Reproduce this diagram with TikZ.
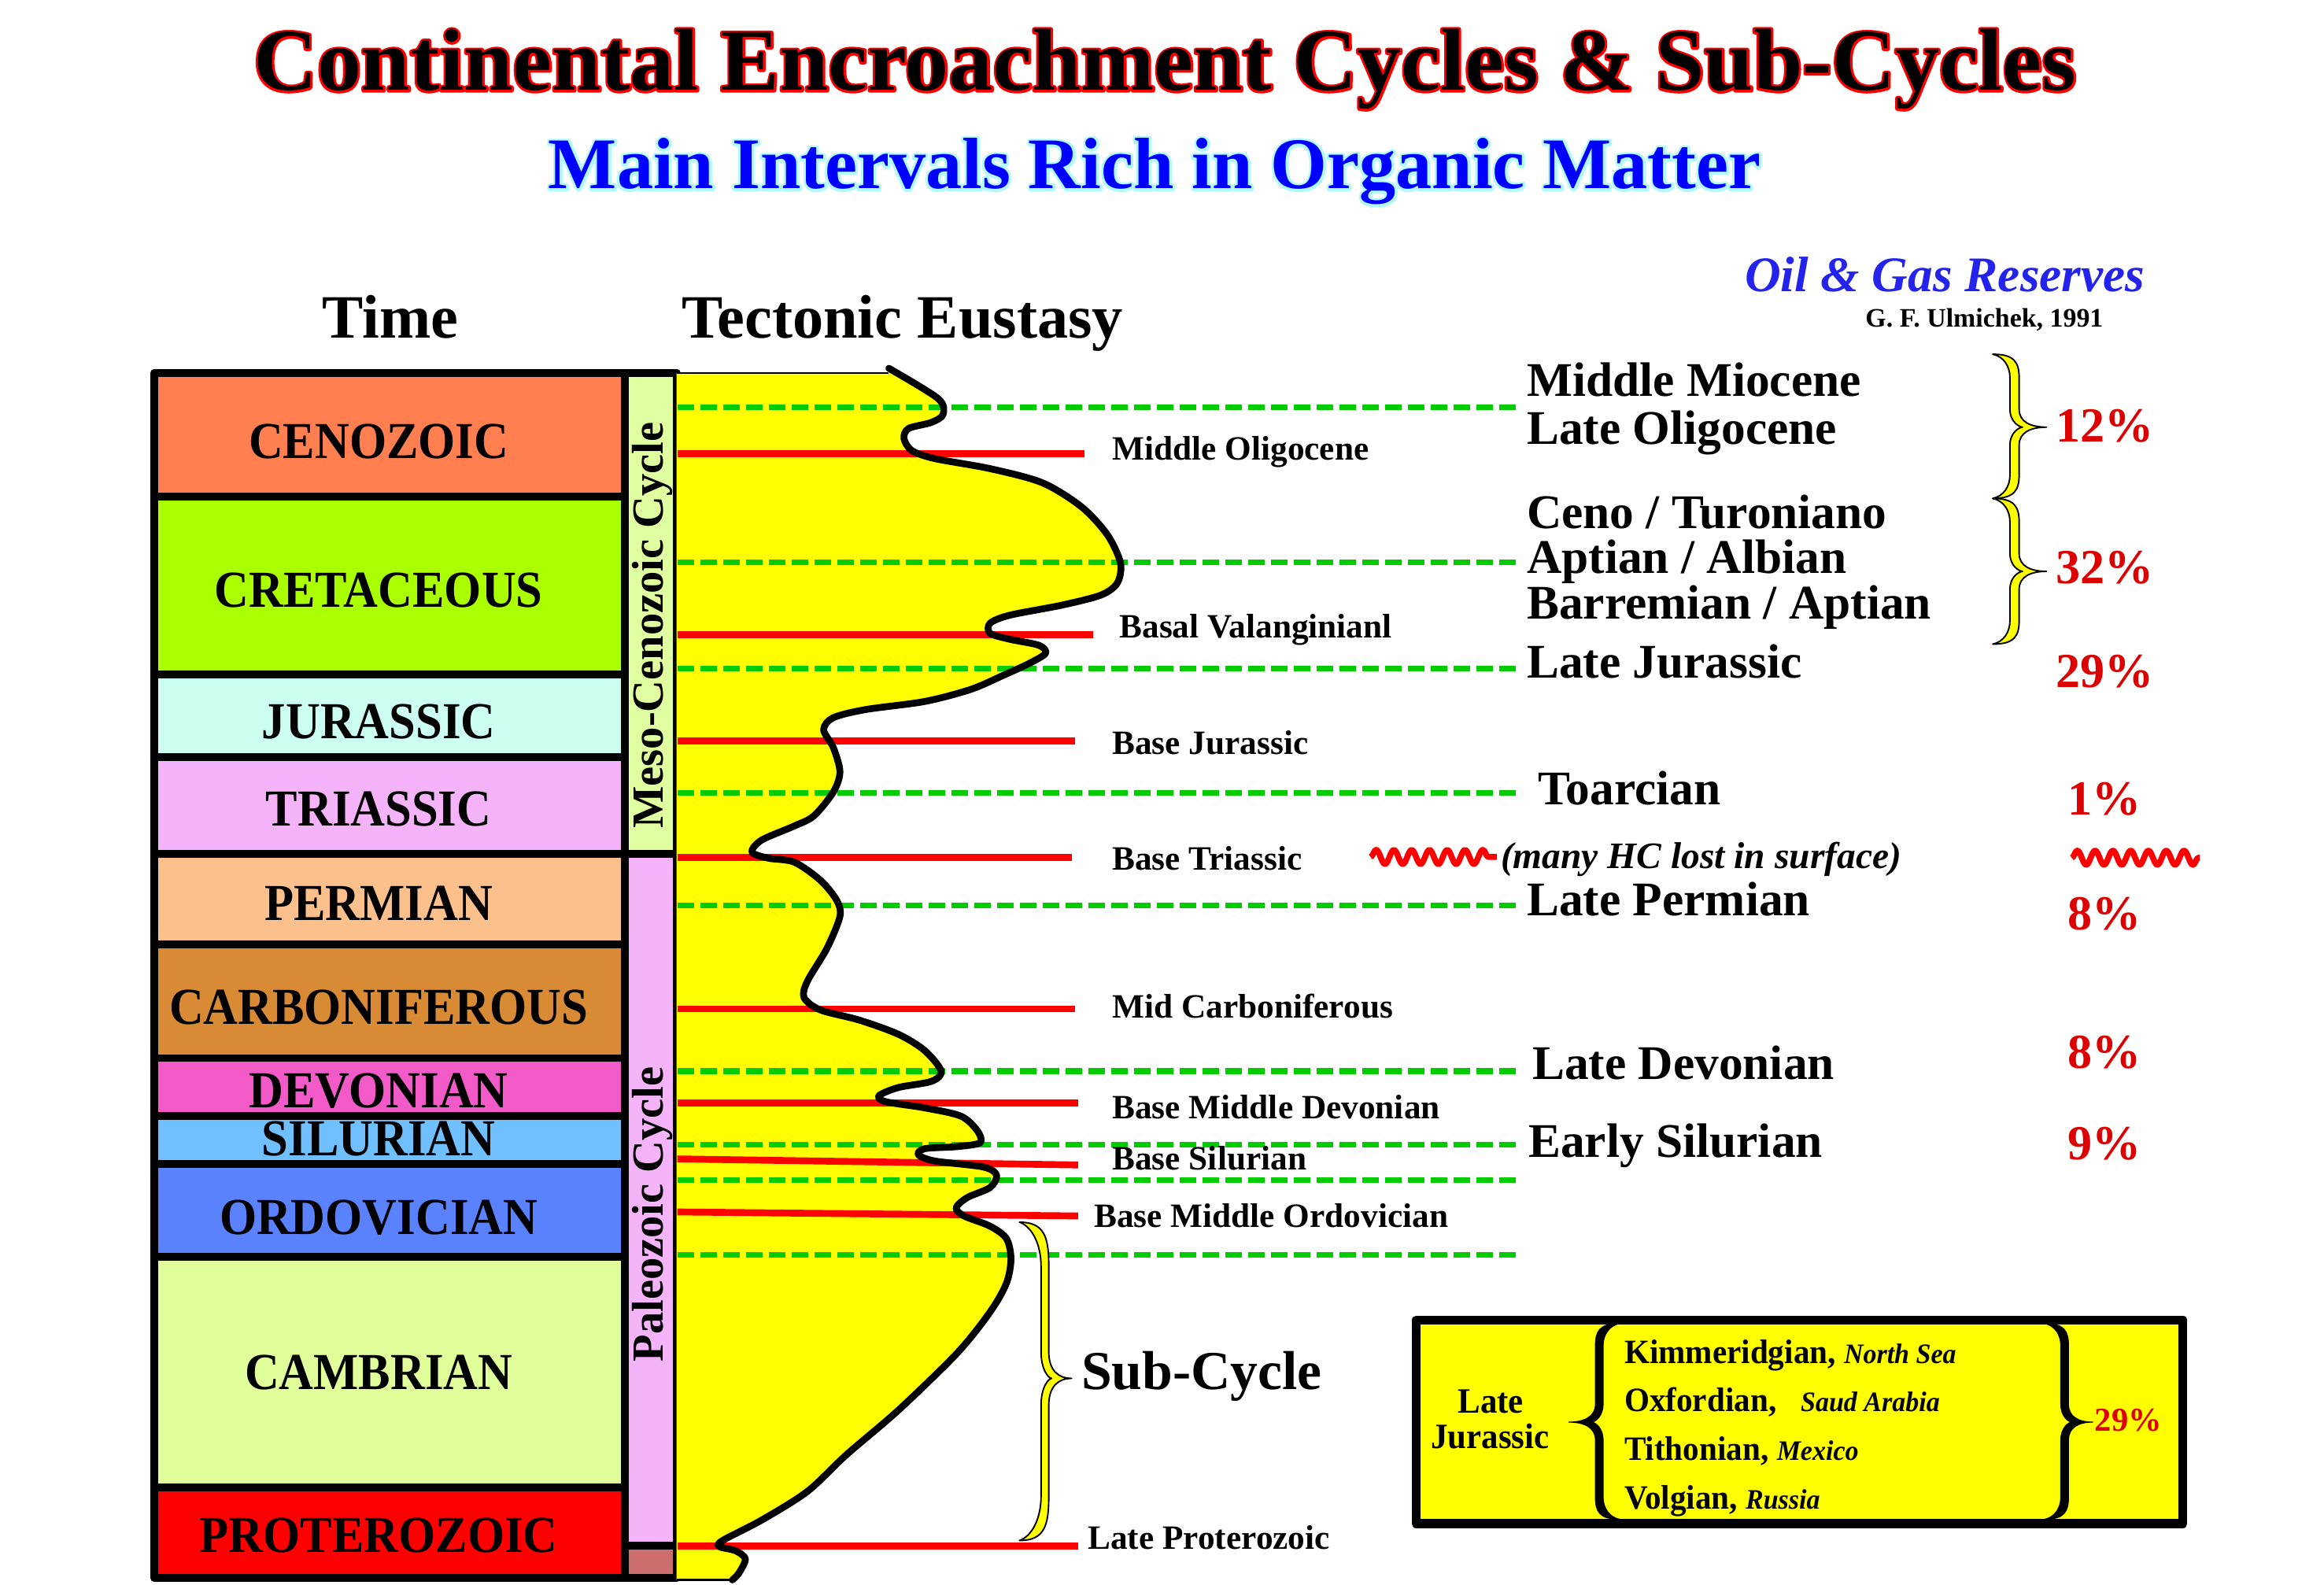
\documentclass[tikz,border=0pt]{standalone}
\usepackage{fontspec}
\setmainfont{Liberation Serif}
\newfontfamily\outlinefontA{Liberation Serif}[BoldFeatures={FakeBold=5}]
\newfontfamily\outlinefontB{Liberation Serif}[BoldFeatures={FakeBold=7}]
\usetikzlibrary{decorations.pathmorphing}
\definecolor{cCen}{RGB}{255,127,80}
\definecolor{cCre}{RGB}{170,255,0}
\definecolor{cJur}{RGB}{204,255,242}
\definecolor{cTri}{RGB}{245,180,250}
\definecolor{cPer}{RGB}{252,192,140}
\definecolor{cCar}{RGB}{217,138,52}
\definecolor{cDev}{RGB}{242,90,200}
\definecolor{cSil}{RGB}{112,192,255}
\definecolor{cOrd}{RGB}{90,130,255}
\definecolor{cCam}{RGB}{224,255,155}
\definecolor{cPro}{RGB}{255,0,0}
\definecolor{cMeso}{RGB}{224,255,160}
\definecolor{cPal}{RGB}{245,180,250}
\definecolor{cPatch}{RGB}{205,110,110}
\definecolor{cYel}{RGB}{255,255,0}
\definecolor{cGrn}{RGB}{0,204,0}
\definecolor{cRed}{RGB}{255,0,0}
\definecolor{cPct}{RGB}{220,0,0}
\definecolor{cBlue}{RGB}{0,0,255}
\definecolor{cCyan}{RGB}{175,250,255}
\definecolor{cOil}{RGB}{35,35,235}
\newcommand\bh{3}
% #1 style, #2 end x, #3 stem x, #4 tip x, #5 top y, #6 tip y, #7 bottom y, #8 curl, #9 tip length
\newcommand\cbrace[9]{%
 \path[#1] (#2,#5)
  .. controls (#3,#5) and ({#3+(\bh)},{#5+0.35*#8}) .. ({#3+(\bh)},{#5+#8})
  -- ({#3+(\bh)},{#6-#9})
  .. controls ({#3+(\bh)},{#6-0.3*#9}) and ({#4-0.5*(#4-#3)},{#6}) .. (#4,#6)
  .. controls ({#4-0.5*(#4-#3)},{#6}) and ({#3+(\bh)},{#6+0.3*#9}) .. ({#3+(\bh)},{#6+#9})
  -- ({#3+(\bh)},{#7-#8})
  .. controls ({#3+(\bh)},{#7-0.35*#8}) and (#3,#7) .. (#2,#7)
  .. controls ({0.5*#2+0.5*#3},{#7-0.1*#8}) and ({#3-(\bh)},{#7-0.5*#8}) .. ({#3-(\bh)},{#7-#8})
  -- ({#3-(\bh)},{#6+#9})
  .. controls ({#3-(\bh)},{#6+0.3*#9}) and ({#3+0.15*(#4-#3)},{#6}) .. ({#3+0.25*(#4-#3)},{#6})
  .. controls ({#3+0.15*(#4-#3)},{#6}) and ({#3-(\bh)},{#6-0.3*#9}) .. ({#3-(\bh)},{#6-#9})
  -- ({#3-(\bh)},{#5+#8})
  .. controls ({#3-(\bh)},{#5+0.5*#8}) and ({0.5*#2+0.5*#3},{#5+0.1*#8}) .. (#2,#5)
  -- cycle;}
\tikzset{
 every node/.style={inner sep=0pt, outer sep=0pt},
 perlab/.style={font=\fontsize{17.5}{20}\selectfont\bfseries, anchor=base, xscale=0.92},
 redlab/.style={font=\fontsize{11.5}{13}\selectfont\bfseries, anchor=base west},
 biglab/.style={font=\fontsize{16.3}{18}\selectfont\bfseries, anchor=base west},
 pctlab/.style={font=\fontsize{16.5}{18}\selectfont\bfseries, text=cPct, anchor=base},
 boxlab/.style={font=\fontsize{11.5}{13}\selectfont\bfseries, anchor=base west, xscale=0.95},
 cyclab/.style={font=\fontsize{15}{17}\selectfont\bfseries, anchor=base, rotate=90},
 grnline/.style={cGrn, line width=1.9pt, dash pattern=on 5.6pt off 2.1pt},
 redline/.style={cRed, line width=2.3pt},
 border/.style={line width=2.6pt},
 wavy/.style={cRed, line width=2pt, decorate, decoration={snake, segment length=6pt, amplitude=2.4pt}},
 ybrace/.style={fill=cYel, draw=black, line width=0.5pt},
 kbrace/.style={fill=black, draw=black, line width=0.3pt},
}
\begin{document}
\begin{tikzpicture}[x=0.5pt,y=-0.5pt, line join=round]
\useasboundingbox (0,0) rectangle (1568,1069);
\fill[white] (0,0) rectangle (1568,1069);

% ---------- titles ----------
\node[font=\fontsize{29.7}{32}\selectfont\outlinefontA\bfseries, text=cRed, anchor=base] (titleR) at (786,61) {Continental Encroachment Cycles \& Sub-Cycles};
\node[font=\fontsize{29.7}{32}\selectfont\bfseries, anchor=base] (title) at (786,61) {Continental Encroachment Cycles \& Sub-Cycles};
\node[font=\fontsize{24.5}{27}\selectfont\outlinefontB\bfseries, text=cCyan, anchor=base] (subtitleC) at (779,127.4) {Main Intervals Rich in Organic Matter};
\node[font=\fontsize{24.5}{27}\selectfont\bfseries, text=cBlue, anchor=base] (subtitle) at (779,127.4) {Main Intervals Rich in Organic Matter};

\node[font=\fontsize{20.8}{23}\selectfont\bfseries, anchor=base] (time) at (263.5,228.3) {Time};
\node[font=\fontsize{20.8}{23}\selectfont\bfseries, anchor=base west] (tect) at (460,228.3) {Tectonic Eustasy};
\node[font=\fontsize{16.8}{19}\selectfont\bfseries\itshape, text=cOil, anchor=base east] (oil) at (1447,196.5) {Oil \& Gas Reserves};
\node[font=\fontsize{9}{10}\selectfont\bfseries, anchor=base east] (ulm) at (1419,220.4) {G. F. Ulmichek, 1991};

% ---------- time column ----------
\fill[cCen] (104,251.6) rectangle (421.5,335.2);
\fill[cCre] (104,335.2) rectangle (421.5,454.9);
\fill[cJur] (104,454.9) rectangle (421.5,510.7);
\fill[cTri] (104,510.7) rectangle (421.5,576.3);
\fill[cPer] (104,576.3) rectangle (421.5,637.2);
\fill[cCar] (104,637.2) rectangle (421.5,713.9);
\fill[cDev] (104,713.9) rectangle (421.5,753);
\fill[cSil] (104,753) rectangle (421.5,785.5);
\fill[cOrd] (104,785.5) rectangle (421.5,848);
\fill[cCam] (104,848) rectangle (421.5,1003.6);
\fill[cPro] (104,1003.6) rectangle (421.5,1064.7);
\fill[cMeso] (421.5,251.6) rectangle (456.5,576.3);
\fill[cPal] (421.5,576.3) rectangle (456.5,1042.7);
\fill[cPatch] (421.5,1042.7) rectangle (456.5,1064.7);
\foreach \y in {335.2,454.9,510.7,576.3,637.2,713.9,753,785.5,848,1003.6}
  \draw[border] (104,\y) -- (421.5,\y);
\draw[border] (421.5,576.3) -- (456.5,576.3);
\draw[border] (421.5,1042.7) -- (456.5,1042.7);
\draw[border] (421.5,251.6) -- (421.5,1064.7);
\draw[border] (104,251.6) rectangle (456.5,1064.7);

\node[perlab] (cen) at (255.5,309.4) {CENOZOIC};
\node[perlab] (cre) at (255.5,409.7) {CRETACEOUS};
\node[perlab] (jur) at (255.5,498.5) {JURASSIC};
\node[perlab] (tri) at (255.5,557.3) {TRIASSIC};
\node[perlab] (per) at (255.5,621) {PERMIAN};
\node[perlab] (car) at (255.5,691) {CARBONIFEROUS};
\node[perlab] (dev) at (255.5,747.5) {DEVONIAN};
\node[perlab] (sil) at (255.5,780) {SILURIAN};
\node[perlab] (ord) at (255.5,832.8) {ORDOVICIAN};
\node[perlab] (cam) at (255.5,937.5) {CAMBRIAN};
\node[perlab] (pro) at (255.5,1047.6) {PROTEROZOIC};
\node[cyclab] (meso) at (447.5,421.9) {Meso-Cenozoic Cycle};
\node[cyclab] (paleo) at (447.5,819.3) {Paleozoic Cycle};

% ---------- eustasy curve ----------
\def\curvepts{(599.7,248.5) (632.8,268.8) (636.3,279.6) (628.4,285) (613,289.1) (609.9,295.9) (615.2,304) (630.6,309.4) (668,316.2) (703.2,325.7) (729.6,341.9) (747.2,360.9) (756,379.9) (753.8,393.4) (742.8,401.5) (716.4,408.3) (681.2,415.1) (668,420.5) (668,427.3) (681.2,431.3) (701,435.4) (705.4,440.8) (694.4,447.6) (676.8,455.7) (654.8,465.2) (623.8,473.3) (584.3,478.7) (562.3,484.2) (555.7,492.3) (562.3,504.5) (566.7,520.7) (562.3,534.3) (549.1,550.5) (535.9,557.3) (513.9,566.8) (507.3,574.9) (518.3,579) (535.9,581.7) (553.5,593.9) (564.5,607.4) (566.7,618.3) (557.9,639.9) (544.7,662.1) (542.5,673.1) (553.5,681.4) (579.9,688.3) (606.3,697.9) (624,708.9) (635,722.7) (628.4,729.6) (606.3,733.7) (593.1,739.2) (597.5,743.3) (624,747.5) (648.2,753) (659.2,762.6) (661.4,770.9) (646,773.6) (624,775) (619.6,779.1) (630.6,783.3) (663.6,787.4) (672.4,792.9) (668,801.2) (652.6,808) (645.1,814.9) (650.4,820.4) (668,827.3) (679,835.6) (682.1,849.4) (679,865.9) (668,885.2) (646,912.7) (606.3,951.3) (571.1,981.5) (544.7,1006.3) (513.9,1025.6) (487.5,1039.4) (485.3,1043.5) (496.3,1046.3) (502.9,1051.8) (498.5,1061.4) (494.1,1066)}
\fill[cYel] (456.5,251.6) -- (599.7,251.6) -- plot[smooth,tension=0.5] coordinates {\curvepts} -- (456.5,1066) -- cycle;
\draw[line width=0.7pt] (456.5,251.6) -- (599.7,251.6);
\draw[line width=0.9pt] (456.5,1066) -- (494.1,1066);

% green dashed levels
\foreach \y in {275,379.3,451.1,535.1,610.9,722.7,772.2,796.2,846.6}
  \draw[grnline] (457,\y) -- (1025,\y);
% red surfaces
\draw[redline] (457,306.2) -- (731.8,306.2);
\draw[redline] (457,428.1) -- (737.5,428.1);
\draw[redline] (457,499.9) -- (725.2,499.9);
\draw[redline] (457,578.4) -- (723,578.4);
\draw[redline] (457,680.8) -- (725.2,680.8);
\draw[redline] (457,744.2) -- (727.4,744.2);
\draw[redline] (457,781.9) -- (727.4,786);
\draw[redline] (457,817.7) -- (727.4,820.4);
\draw[redline] (457,1043) -- (727.4,1043);

\draw[line width=2.3pt, line cap=round] plot[smooth,tension=0.5] coordinates {\curvepts};

% labels of surfaces
\node[redlab] (mol) at (750.5,310.6) {Middle Oligocene};
\node[redlab] (bval) at (755.3,430.1) {Basal Valanginianl};
\node[redlab] (bjur) at (750.5,508.8) {Base Jurassic};
\node[redlab] (btri) at (750.5,587) {Base Triassic};
\node[redlab] (mcar) at (750.5,686.6) {Mid Carboniferous};
\node[redlab] (bmdev) at (750.5,754.9) {Base Middle Devonian};
\node[redlab] (bsil) at (750.5,789.3) {Base Silurian};
\node[redlab] (bmord) at (738.2,828.1) {Base Middle Ordovician};
\node[redlab] (lpro) at (734,1045) {Late Proterozoic};

% sub-cycle brace
\renewcommand\bh{2.6}
\cbrace{ybrace}{687.8}{705}{723}{824.6}{930}{1039.4}{30}{18}
\node[font=\fontsize{18.5}{21}\selectfont\bfseries, anchor=base west] (subc) at (729.6,937.5) {Sub-Cycle};

% ---------- right labels ----------
\node[biglab] (mmio) at (1030.2,267.3) {Middle Miocene};
\node[biglab] (loli) at (1030.2,300) {Late Oligocene};
\node[biglab] (ceno) at (1030.2,356.6) {Ceno / Turoniano};
\node[biglab] (apt) at (1030.2,386.7) {Aptian / Albian};
\node[biglab] (bar) at (1030.2,417.7) {Barremian / Aptian};
\node[biglab] (ljur) at (1030.2,457.5) {Late Jurassic};
\node[biglab] (toa) at (1037.7,542.7) {Toarcian};
\node[biglab] (lper) at (1030.2,617.8) {Late Permian};
\node[biglab] (ldev) at (1033.9,728.1) {Late Devonian};
\node[biglab] (esil) at (1031.3,780.7) {Early Silurian};

\renewcommand\bh{3.1}
\cbrace{ybrace}{1344.5}{1359.2}{1380.8}{239}{288.2}{336.3}{16}{12}
\cbrace{ybrace}{1344.5}{1359.2}{1380.8}{336.3}{385.5}{434.6}{16}{12}

\node[pctlab] (p12) at (1420,298.2) {12\%};
\node[pctlab] (p32) at (1420,393.8) {32\%};
\node[pctlab] (p29) at (1420,463.7) {29\%};
\node[pctlab] (p1) at (1420,549.8) {1\%};
\node[pctlab] (p8a) at (1420,627.3) {8\%};
\node[pctlab] (p8b) at (1420,720.9) {8\%};
\node[pctlab] (p9) at (1420,782.6) {9\%};

\draw[wavy] (924.7,578.2) -- (1010,578.2);
\node[font=\fontsize{12.6}{14}\selectfont\bfseries\itshape, anchor=base west] (lost) at (1012.6,585.8) {(many HC lost in surface)};
\draw[wavy] (1397.8,578.7) -- (1484.2,578.7);

% ---------- Late Jurassic box ----------
\draw[fill=cYel, line width=3pt] (955.5,890.7) rectangle (1472.8,1027.9);
\node[font=\fontsize{12}{14}\selectfont\bfseries, anchor=base, xscale=0.95] (ljA) at (1005.8,953.3) {Late};
\node[font=\fontsize{12}{14}\selectfont\bfseries, anchor=base, xscale=0.95] (ljB) at (1005.4,977.2) {Jurassic};
\renewcommand\bh{-2.6}
\cbrace{kbrace}{1092.5}{1079}{1058.4}{893}{959.5}{1025}{15}{12}
\renewcommand\bh{2.6}
\cbrace{kbrace}{1379.7}{1393}{1412}{893}{959.5}{1025}{15}{12}
\node[boxlab] (kim) at (1096,919.7) {Kimmeridgian, {\fontsize{9.5}{11}\selectfont\itshape North Sea}};
\node[boxlab] (oxf) at (1096,952.4) {Oxfordian,\hspace{0.5em} {\fontsize{9.5}{11}\selectfont\itshape Saud Arabia}};
\node[boxlab] (tit) at (1096,985.1) {Tithonian, {\fontsize{9.5}{11}\selectfont\itshape Mexico}};
\node[boxlab] (vol) at (1096,1017.9) {Volgian, {\fontsize{9.5}{11}\selectfont\itshape Russia}};
\node[font=\fontsize{11.3}{13}\selectfont\bfseries, text=cPct, anchor=base] (p29b) at (1436,965.7) {29\%};
\end{tikzpicture}
\end{document}
